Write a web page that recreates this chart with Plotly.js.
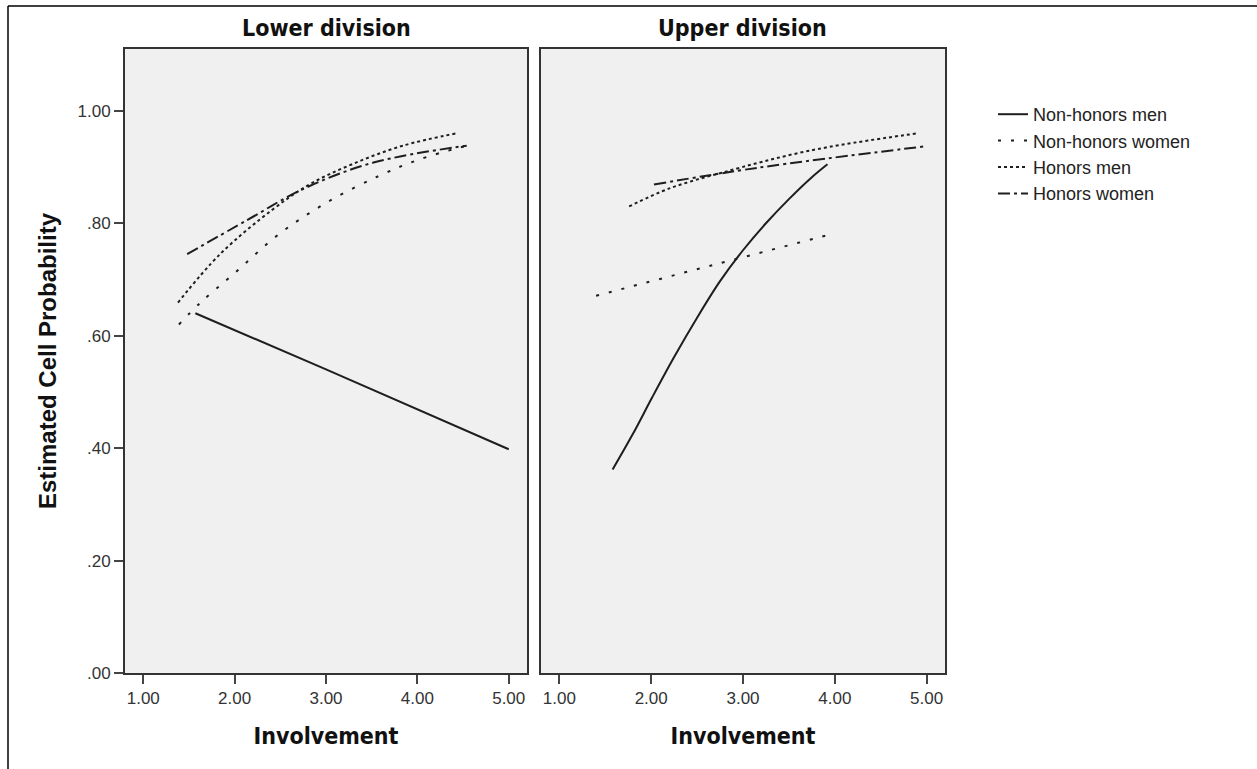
<!DOCTYPE html>
<html>
<head>
<meta charset="utf-8">
<script src="https://cdn.plot.ly/plotly-3.0.1.min.js"></script>
<style>html,body{margin:0;padding:0;background:#fff;}#chart{width:1257px;height:769px;}</style>
</head>
<body>
<div id="chart"></div>
<script>
// ---- Data ----
const panels = ["Lower division", "Upper division"];
const seriesNames = ["Non-honors men", "Non-honors women", "Honors men", "Honors women"];

// Lower division
const lowerNonHonorsMenX = [1.57, 3.0, 5.0];
const lowerNonHonorsMenY = [0.640, 0.540, 0.398];
const lowerNonHonorsWomenX = [1.39, 1.62, 1.99, 2.48, 3.01, 3.59, 4.03, 4.54];
const lowerNonHonorsWomenY = [0.620, 0.658, 0.710, 0.780, 0.837, 0.885, 0.914, 0.938];
const lowerHonorsMenX = [1.38, 1.84, 2.42, 2.83, 3.30, 3.84, 4.43];
const lowerHonorsMenY = [0.659, 0.745, 0.825, 0.870, 0.906, 0.938, 0.960];
const lowerHonorsWomenX = [1.48, 2.13, 2.75, 3.52, 4.54];
const lowerHonorsWomenY = [0.745, 0.805, 0.861, 0.908, 0.938];

// Upper division
const upperNonHonorsMenX = [1.58, 1.80, 2.01, 2.25, 2.50, 2.75, 3.00, 3.25, 3.50, 3.75, 3.92];
const upperNonHonorsMenY = [0.362, 0.425, 0.490, 0.562, 0.632, 0.697, 0.752, 0.800, 0.843, 0.882, 0.905];
const upperNonHonorsWomenX = [1.40, 2.68, 3.95];
const upperNonHonorsWomenY = [0.671, 0.726, 0.780];
const upperHonorsMenX = [1.76, 2.20, 2.77, 3.72, 4.90];
const upperHonorsMenY = [0.830, 0.862, 0.890, 0.929, 0.960];
const upperHonorsWomenX = [2.03, 3.17, 4.99];
const upperHonorsWomenY = [0.869, 0.899, 0.937];

const xTickVals = [1, 2, 3, 4, 5];
const xTickText = ["1.00", "2.00", "3.00", "4.00", "5.00"];
const yTickVals = [0, 0.2, 0.4, 0.6, 0.8, 1.0];
const yTickText = [".00", ".20", ".40", ".60", ".80", "1.00"];

// ---- Styles ----
const lineColor = "#1e1e1e";
const dashes = ["solid", "3px,10px", "3px,3px", "12px,4px,3px,4px"];

const lowerData = [
  [lowerNonHonorsMenX, lowerNonHonorsMenY],
  [lowerNonHonorsWomenX, lowerNonHonorsWomenY],
  [lowerHonorsMenX, lowerHonorsMenY],
  [lowerHonorsWomenX, lowerHonorsWomenY]
];
const upperData = [
  [upperNonHonorsMenX, upperNonHonorsMenY],
  [upperNonHonorsWomenX, upperNonHonorsWomenY],
  [upperHonorsMenX, upperHonorsMenY],
  [upperHonorsWomenX, upperHonorsWomenY]
];

const traces = [];
lowerData.forEach((d, i) => {
  traces.push({
    x: d[0], y: d[1], type: "scatter", mode: "lines",
    name: seriesNames[i], legendgroup: seriesNames[i], showlegend: true,
    line: {color: lineColor, width: 2, dash: dashes[i], shape: "spline", smoothing: 1.0},
    xaxis: "x", yaxis: "y", hoverinfo: "x+y+name"
  });
});
upperData.forEach((d, i) => {
  traces.push({
    x: d[0], y: d[1], type: "scatter", mode: "lines",
    name: seriesNames[i], legendgroup: seriesNames[i], showlegend: false,
    line: {color: lineColor, width: 2, dash: dashes[i], shape: "spline", smoothing: 1.0},
    xaxis: "x2", yaxis: "y2", hoverinfo: "x+y+name"
  });
});

const W = 1257, H = 769;
const px = v => v / W;
const py = v => (H - v) / H;

const tickFont = {family: "Liberation Sans, Arial, sans-serif", size: 17, color: "#333"};
const headFamily = "DejaVu Sans Condensed, DejaVu Sans, sans-serif";
const axisTitleFont = {family: headFamily, size: 23, color: "#111"};

function xAxis(domain) {
  return {
    domain: domain, range: [0.8, 5.2], tickvals: xTickVals, ticktext: xTickText,
    ticks: "outside", ticklen: 9, tickwidth: 2, tickcolor: "#444",
    showline: true, mirror: true, linecolor: "#333", linewidth: 2,
    showgrid: false, zeroline: false, tickfont: tickFont, fixedrange: true,
    title: {text: "<b>Involvement</b>", font: axisTitleFont, standoff: 20}
  };
}

const layout = {
  width: W, height: H,
  margin: {l: 0, r: 0, t: 0, b: 0},
  paper_bgcolor: "#ffffff",
  plot_bgcolor: "#f0f0f0",
  showlegend: true,
  legend: {
    x: px(993), y: py(96), xanchor: "left", yanchor: "top",
    font: {family: "Liberation Sans, Arial, sans-serif", size: 18, color: "#222"},
    bgcolor: "rgba(0,0,0,0)", tracegroupgap: 0, itemwidth: 30
  },
  xaxis: xAxis([px(125), px(527)]),
  xaxis2: Object.assign(xAxis([px(541), px(945)]), {anchor: "y2"}),
  yaxis: {
    domain: [py(673), py(49)], range: [0, 1.11], tickvals: yTickVals, ticktext: yTickText,
    ticks: "outside", ticklen: 9, tickwidth: 2, tickcolor: "#444",
    showline: true, mirror: true, linecolor: "#333", linewidth: 2,
    showgrid: false, zeroline: false, tickfont: tickFont, fixedrange: true,
    title: {text: "<b>Estimated Cell Probability</b>", font: {family: "Liberation Sans, Arial, sans-serif", size: 24, color: "#111"}, standoff: 14}
  },
  yaxis2: {
    domain: [py(673), py(49)], range: [0, 1.11], anchor: "x2",
    showticklabels: false, ticks: "",
    showline: true, mirror: true, linecolor: "#333", linewidth: 2,
    showgrid: false, zeroline: false, fixedrange: true
  },
  annotations: [
    {text: "<b>" + panels[0] + "</b>", xref: "paper", yref: "paper", x: px(326), y: py(28),
     xanchor: "center", yanchor: "middle", showarrow: false,
     font: {family: headFamily, size: 23, color: "#111"}},
    {text: "<b>" + panels[1] + "</b>", xref: "paper", yref: "paper", x: px(743), y: py(28),
     xanchor: "center", yanchor: "middle", showarrow: false,
     font: {family: headFamily, size: 23, color: "#111"}}
  ],
  shapes: [
    {type: "line", xref: "paper", yref: "paper", x0: px(8), x1: 1, y0: py(6), y1: py(6), line: {color: "#000", width: 1.5}},
    {type: "line", xref: "paper", yref: "paper", x0: px(8), x1: px(8), y0: py(6), y1: 0, line: {color: "#000", width: 1.5}}
  ]
};

Plotly.newPlot("chart", traces, layout, {displayModeBar: false, staticPlot: true});
</script>
</body>
</html>
